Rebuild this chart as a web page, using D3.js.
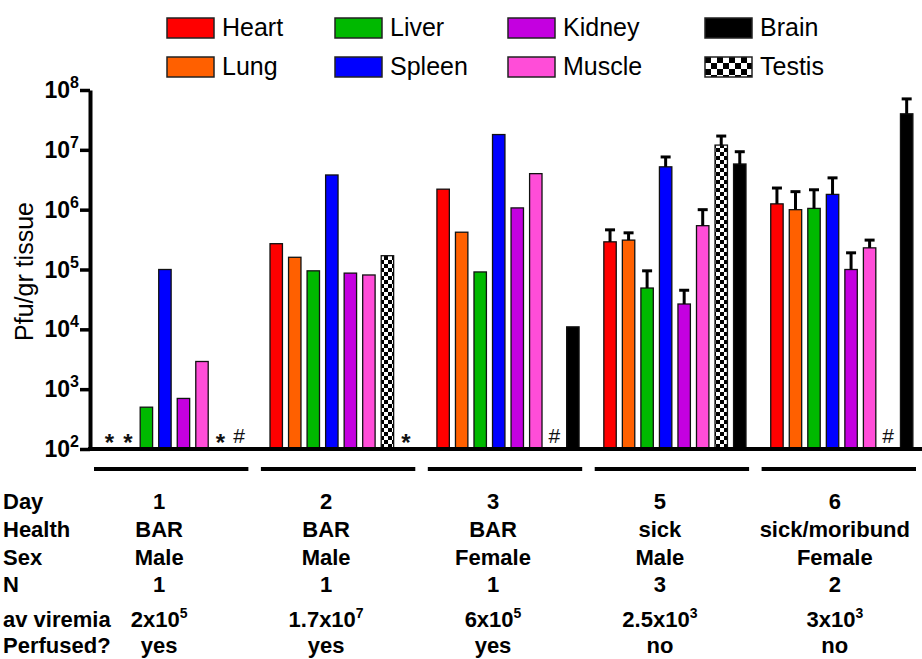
<!DOCTYPE html>
<html>
<head>
<meta charset="utf-8">
<script src="https://cdn.jsdelivr.net/npm/d3@7"></script>
<style>
  body { margin: 0; background: #fff; }
  svg { display: block; font-family: "Liberation Sans", Arial, sans-serif; }
</style>
</head>
<body>
<div id="chart"></div>
<script>
// groups (day post infection) and organs in bar order
const days = ["1", "2", "3", "5", "6"];
const organs = ["Heart", "Lung", "Liver", "Spleen", "Kidney", "Muscle", "Testis", "Brain"];

// Pfu/gr tissue per day (null = nothing drawn)
const heart  = [null, 2.7e5, 2.2e6, 2.9e5, 1.25e6];
const lung   = [null, 1.6e5, 4.2e5, 3.1e5, 1.0e6];
const liver  = [500, 9.5e4, 9.1e4, 4.9e4, 1.05e6];
const spleen = [1e5, 3.8e6, 1.8e7, 5.2e6, 1.8e6];
const kidney = [700, 8.7e4, 1.07e6, 2.65e4, 1.0e5];
const muscle = [2900, 8.1e4, 4.0e6, 5.4e5, 2.3e5];
const testis = [null, 1.7e5, null, 1.2e7, null];
const brain  = [null, null, 1.1e4, 5.8e6, 4.0e7];

// top of error bar (mean + SEM), only where N > 1
const heartHi  = [null, null, null, 4.6e5, 2.3e6];
const lungHi   = [null, null, null, 4.1e5, 2.0e6];
const liverHi  = [null, null, null, 9.5e4, 2.15e6];
const spleenHi = [null, null, null, 7.6e6, 3.4e6];
const kidneyHi = [null, null, null, 4.5e4, 1.9e5];
const muscleHi = [null, null, null, 1.0e6, 3.1e5];
const testisHi = [null, null, null, 1.7e7, null];
const brainHi  = [null, null, null, 9.3e6, 7.1e7];

// * = below detection, # = not tested
const notDetected = [["1", "Heart"], ["1", "Lung"], ["1", "Testis"], ["2", "Brain"]];
const notTested = [["1", "Brain"], ["3", "Testis"], ["6", "Testis"]];

const yTicks = [1e2, 1e3, 1e4, 1e5, 1e6, 1e7, 1e8];

// table under the chart
const rowLabels = ["Day", "Health", "Sex", "N", "av viremia", "Perfused?"];
const health = ["BAR", "BAR", "BAR", "sick", "sick/moribund"];
const sex = ["Male", "Male", "Female", "Male", "Female"];
const nMice = ["1", "1", "1", "3", "2"];
const viremiaBase = ["2x10", "1.7x10", "6x10", "2.5x10", "3x10"];
const viremiaExp = ["5", "7", "5", "3", "3"];
const perfused = ["yes", "yes", "yes", "no", "no"];

const legendRows = [["Heart", "Liver", "Kidney", "Brain"], ["Lung", "Spleen", "Muscle", "Testis"]];

const colors = {
  Heart: "#ff0000", Lung: "#ff6000", Liver: "#00b900", Spleen: "#0000ff",
  Kidney: "#c400e0", Muscle: "#ff4dd8", Brain: "#000000", Testis: "url(#checker)"
};

const means = {Heart: heart, Lung: lung, Liver: liver, Spleen: spleen, Kidney: kidney, Muscle: muscle, Testis: testis, Brain: brain};
const highs = {Heart: heartHi, Lung: lungHi, Liver: liverHi, Spleen: spleenHi, Kidney: kidneyHi, Muscle: muscleHi, Testis: testisHi, Brain: brainHi};

const data = days.flatMap((d, i) => organs.map(o => ({day: d, organ: o, v: means[o][i], hi: highs[o][i]})));

const W = 922, H = 659;
const svg = d3.select("#chart").append("svg").attr("width", W).attr("height", H);

const defs = svg.append("defs");
function checker(id, s) {
  const p = defs.append("pattern").attr("id", id).attr("patternUnits", "userSpaceOnUse")
    .attr("width", 2 * s).attr("height", 2 * s);
  p.append("rect").attr("width", 2 * s).attr("height", 2 * s).attr("fill", "#fff");
  p.append("rect").attr("width", s).attr("height", s).attr("fill", "#000");
  p.append("rect").attr("x", s).attr("y", s).attr("width", s).attr("height", s).attr("fill", "#000");
}
checker("checker", 4);
checker("checkerLeg", 6);

const x0 = d3.scaleBand().domain(days).range([97, 919]).paddingInner(0.075).paddingOuter(0);
const x1 = d3.scaleBand().domain(organs).range([0, x0.bandwidth()]).padding(0.33);
const y = d3.scaleLog().domain([1e2, 1e8]).range([449, 90]);

// bars
svg.append("g").selectAll("rect")
  .data(data.filter(d => d.v != null))
  .join("rect")
  .attr("x", d => x0(d.day) + x1(d.organ))
  .attr("y", d => y(d.v))
  .attr("width", x1.bandwidth())
  .attr("height", d => y(1e2) - y(d.v))
  .attr("fill", d => colors[d.organ])
  .attr("stroke", "#111")
  .attr("stroke-width", 1.3);

// error bars
const eb = svg.append("g").attr("stroke", "#000").attr("stroke-width", 3);
data.filter(d => d.hi != null).forEach(d => {
  const cx = x0(d.day) + x1(d.organ) + x1.bandwidth() / 2;
  eb.append("line").attr("x1", cx).attr("x2", cx).attr("y1", y(d.v)).attr("y2", y(d.hi));
  eb.append("line").attr("x1", cx - 5).attr("x2", cx + 5).attr("y1", y(d.hi)).attr("y2", y(d.hi));
});

// * and # markers
const marks = notDetected.map(m => ({day: m[0], organ: m[1], t: "*"}))
  .concat(notTested.map(m => ({day: m[0], organ: m[1], t: "#"})));
svg.append("g").selectAll("text").data(marks).join("text")
  .attr("x", d => x0(d.day) + x1(d.organ) + x1.bandwidth() / 2)
  .attr("y", d => d.t === "*" ? 451 : 443)
  .attr("text-anchor", "middle")
  .attr("font-size", d => d.t === "*" ? 24 : 21)
  .attr("font-weight", d => d.t === "*" ? "bold" : "normal")
  .attr("fill", "#111")
  .text(d => d.t);

// y axis
const yAxis = svg.append("g").attr("transform", "translate(90,0)")
  .call(d3.axisLeft(y).tickValues(yTicks).tickSize(10).tickSizeOuter(0).tickFormat(""));
yAxis.select(".domain").attr("stroke-width", 4).attr("stroke", "#000");
yAxis.selectAll(".tick line").attr("stroke-width", 3.5).attr("stroke", "#000");

const tl = svg.append("g").selectAll("text").data(yTicks).join("text")
  .attr("x", 79)
  .attr("y", d => y(d) + 8)
  .attr("text-anchor", "end")
  .attr("font-weight", "bold")
  .attr("font-size", 23);
tl.append("tspan").text("10");
tl.append("tspan").attr("dy", -10).attr("font-size", 16).text(d => Math.round(Math.log10(d)));

// x axis line
svg.append("line").attr("x1", 88).attr("x2", W).attr("y1", y(1e2)).attr("y2", y(1e2))
  .attr("stroke", "#000").attr("stroke-width", 4);

svg.append("text")
  .attr("transform", `translate(33,${(y(1e2) + y(1e8)) / 2 + 2}) rotate(-90)`)
  .attr("text-anchor", "middle")
  .attr("font-size", 25)
  .text("Pfu/gr tissue");

// group underlines
svg.append("g").selectAll("line").data(days).join("line")
  .attr("x1", d => x0(d) - 3)
  .attr("x2", d => x0(d) + x0.bandwidth() - 3)
  .attr("y1", 469).attr("y2", 469)
  .attr("stroke", "#000").attr("stroke-width", 4);

// legend
const legX = [167, 335, 508, 705];
const legY = [18, 57];
legendRows.forEach((row, r) => {
  row.forEach((o, c) => {
    const g = svg.append("g").attr("transform", `translate(${legX[c]},${legY[r]})`);
    g.append("rect").attr("width", 47).attr("height", 20)
      .attr("fill", o === "Testis" ? "url(#checkerLeg)" : colors[o])
      .attr("stroke", "#222").attr("stroke-width", 1.5);
    g.append("text").attr("x", 55).attr("y", 18).attr("font-size", 25).text(o);
  });
});

// table
const rowY = [509, 537, 565, 592, 627, 653];
const colShift = [0, 0, 0, 0, 8];
const tbl = svg.append("g").attr("font-weight", "bold").attr("font-size", 22).attr("fill", "#000");
rowLabels.forEach((l, i) => tbl.append("text").attr("x", 3).attr("y", rowY[i]).text(l));
const colX = i => x0(days[i]) + x0.bandwidth() / 2 - 15 + colShift[i];
const cols = [days, health, sex, nMice];
cols.forEach((arr, r) => {
  tbl.append("g").selectAll("text").data(arr).join("text")
    .attr("x", (d, i) => colX(i))
    .attr("y", rowY[r])
    .attr("text-anchor", "middle")
    .text(d => d);
});
const vt = tbl.append("g").selectAll("text").data(viremiaBase).join("text")
  .attr("x", (d, i) => colX(i))
  .attr("y", rowY[4])
  .attr("text-anchor", "middle");
vt.append("tspan").text(d => d);
vt.append("tspan").attr("dy", -9).attr("font-size", 14).text((d, i) => viremiaExp[i]);
tbl.append("g").selectAll("text").data(perfused).join("text")
  .attr("x", (d, i) => colX(i))
  .attr("y", rowY[5])
  .attr("text-anchor", "middle")
  .text(d => d);
</script>
</body>
</html>
